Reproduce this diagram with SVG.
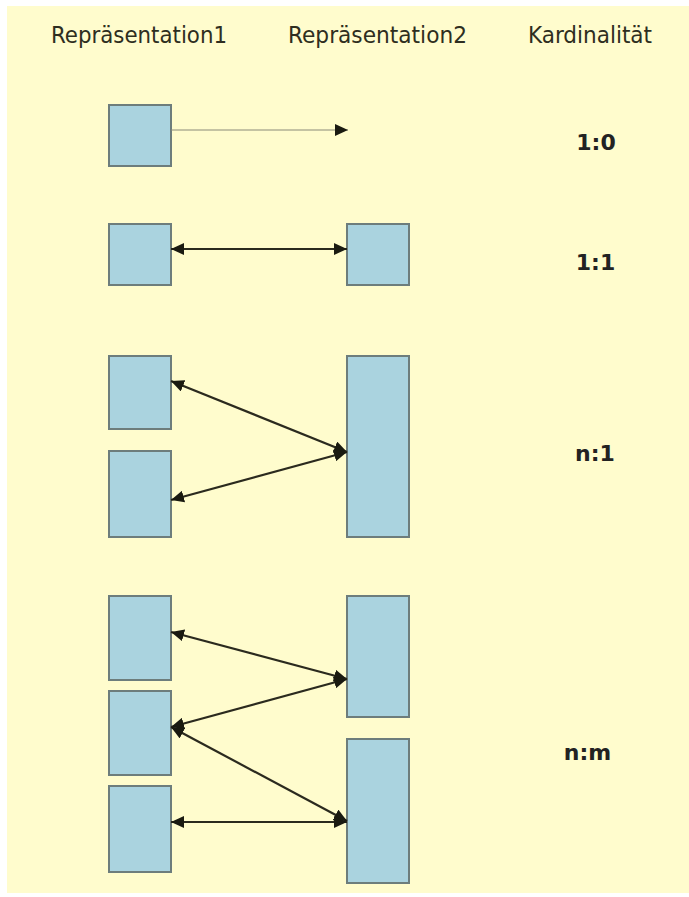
<svg xmlns="http://www.w3.org/2000/svg" width="689" height="897" viewBox="0 0 689 897">
<style>
.hdr{font-family:"DejaVu Sans Condensed","DejaVu Sans",sans-serif;font-stretch:condensed;font-size:23px;fill:#2e2e20;text-anchor:middle}
.card{font-family:"DejaVu Sans","Liberation Sans",sans-serif;font-weight:bold;font-size:22px;fill:#222;text-anchor:middle}
.box{fill:#aad3df;stroke:#6d7d7c;stroke-width:2}
.con{stroke:#2b2a1e;stroke-width:2.2;fill:none}
.thin{stroke:#8a8a78;stroke-width:1;fill:none}
</style>
<defs>
<marker id="ah" markerUnits="userSpaceOnUse" markerWidth="14" markerHeight="12" refX="13" refY="6" orient="auto-start-reverse" viewBox="0 0 14 12">
<path d="M0,0 L13,6 L0,12 z" fill="#1a1a10"/>
</marker>
</defs>
<rect x="0" y="0" width="689" height="897" fill="#ffffff"/>
<rect x="7" y="6" width="682" height="887" fill="#fffccd"/>
<g id="headers">
<text class="hdr" x="139" y="43" textLength="176" lengthAdjust="spacingAndGlyphs">Repräsentation1</text>
<text class="hdr" x="377.5" y="43" textLength="179" lengthAdjust="spacingAndGlyphs">Repräsentation2</text>
<text class="hdr" x="590" y="43" textLength="124" lengthAdjust="spacingAndGlyphs">Kardinalität</text>
</g>
<g id="labels">
<text class="card" x="596" y="150">1:0</text>
<text class="card" x="595.5" y="270">1:1</text>
<text class="card" x="595" y="461">n:1</text>
<text class="card" x="587.5" y="760">n:m</text>
</g>
<g id="r1-10"><rect class="box" x="109" y="105" width="62" height="61"/></g>
<g id="r1-11"><rect class="box" x="109" y="224" width="62" height="61"/></g>
<g id="r2-11"><rect class="box" x="347" y="224" width="62" height="61"/></g>
<g id="r1-n1a"><rect class="box" x="109" y="356" width="62" height="73"/></g>
<g id="r1-n1b"><rect class="box" x="109" y="451" width="62" height="86"/></g>
<g id="r2-n1"><rect class="box" x="347" y="356" width="62" height="181"/></g>
<g id="r1-nma"><rect class="box" x="109" y="596" width="62" height="84"/></g>
<g id="r1-nmb"><rect class="box" x="109" y="691" width="62" height="84"/></g>
<g id="r1-nmc"><rect class="box" x="109" y="786" width="62" height="86"/></g>
<g id="r2-nma"><rect class="box" x="347" y="596" width="62" height="121"/></g>
<g id="r2-nmb"><rect class="box" x="347" y="739" width="62" height="144"/></g>
<g id="connectors">
<line class="thin" x1="171" y1="130" x2="348" y2="130" marker-end="url(#ah)"/>
<line class="con" x1="171" y1="249" x2="347" y2="249" marker-start="url(#ah)" marker-end="url(#ah)"/>
<line class="con" x1="171" y1="381" x2="347" y2="452" marker-start="url(#ah)" marker-end="url(#ah)"/>
<line class="con" x1="171" y1="500" x2="347" y2="452" marker-start="url(#ah)" marker-end="url(#ah)"/>
<line class="con" x1="171" y1="632" x2="347" y2="679" marker-start="url(#ah)" marker-end="url(#ah)"/>
<line class="con" x1="171" y1="727" x2="347" y2="679" marker-start="url(#ah)" marker-end="url(#ah)"/>
<line class="con" x1="171" y1="727" x2="347" y2="821" marker-start="url(#ah)" marker-end="url(#ah)"/>
<line class="con" x1="171" y1="822" x2="347" y2="822" marker-start="url(#ah)" marker-end="url(#ah)"/>
</g>
</svg>
